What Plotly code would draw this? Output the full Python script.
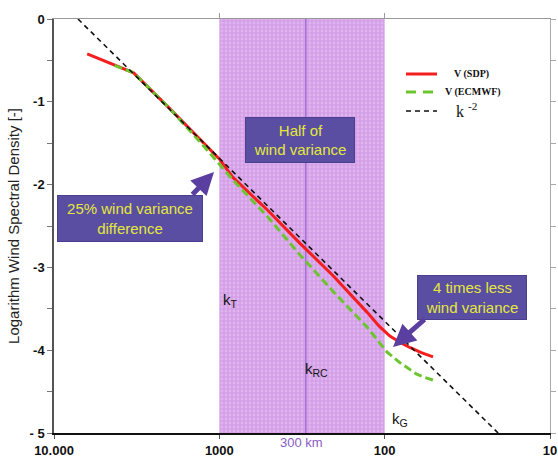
import plotly.graph_objects as go

# ---------------- data ----------------
sdp_km = [6300, 3300, 2000, 1250, 1000, 830, 510, 325, 205, 128, 108, 93, 80, 70, 60, 51]
sdp_val = [-0.42, -0.65, -1.08, -1.50, -1.69, -1.91, -2.31, -2.71, -3.10, -3.54, -3.71, -3.83, -3.91, -3.97, -4.03, -4.08]

ecmwf_km = [4300, 3300, 2000, 1300, 830, 510, 325, 256, 205, 128, 97, 81, 70, 64, 57, 51]
ecmwf_val = [-0.56, -0.65, -1.08, -1.49, -1.94, -2.39, -2.85, -3.08, -3.29, -3.72, -4.02, -4.15, -4.24, -4.29, -4.33, -4.36]

k2_km = [7160, 20.6]
k2_val = [0.0, -5.0]

band_km = [1000, 100]
mark_km = 300
y_limits = [-5, 0]

x_tickvals = [10000, 1000, 100, 10]
x_ticktext = ["10.000", "1000", "100", "10"]
y_tickvals = [0, -0.5, -1, -1.5, -2, -2.5, -3, -3.5, -4, -4.5, -5]
y_ticktext = ["0", "", "-1", "", "-2", "", "-3", "", "-4", "", "- 5"]

# ---------------- figure ----------------
L, R, T, B = 54, 8, 19, 26
W, H = 558, 459
PW, PH = W - L - R, H - T - B


def px(x):
    return (x - L) / PW


def py(y):
    return (H - B - y) / PH


fig = go.Figure()

# shaded band 1000-100 km
fig.add_trace(go.Scatter(
    x=[band_km[0], band_km[1], band_km[1], band_km[0], band_km[0]],
    y=[y_limits[1], y_limits[1], y_limits[0], y_limits[0], y_limits[1]],
    mode="lines", fill="toself", line=dict(width=0),
    fillcolor="#d9a8ea",
    fillpattern=dict(shape="+", size=4, solidity=0.5, fgcolor="#c07ddb", bgcolor="#e0b4ef"),
    hoverinfo="skip", showlegend=False))

# 300 km line
fig.add_trace(go.Scatter(x=[mark_km, mark_km], y=y_limits, mode="lines",
                         line=dict(color="#a070d4", width=1.5),
                         hoverinfo="skip", showlegend=False))

fig.add_trace(go.Scatter(x=sdp_km, y=sdp_val, mode="lines", name="V (SDP)",
                         line=dict(color="#f41e1e", width=3),
                         showlegend=False))
fig.add_trace(go.Scatter(x=ecmwf_km, y=ecmwf_val, mode="lines", name="V (ECMWF)",
                         line=dict(color="#6cc52e", width=3, dash="8px,4px"),
                         showlegend=False))
fig.add_trace(go.Scatter(x=k2_km, y=k2_val, mode="lines", name="k -2",
                         line=dict(color="#111111", width=1.6, dash="5px,4px"),
                         showlegend=False))

# invisible trace for the mirror axes
fig.add_trace(go.Scatter(x=[1000], y=[-1], xaxis="x2", yaxis="y2", mode="markers",
                         marker=dict(opacity=0), hoverinfo="skip", showlegend=False))

tickfont = dict(family="Liberation Sans, Arial", size=13, color="#111", weight="bold")

fig.update_layout(
    width=W, height=H,
    margin=dict(l=L, r=R, t=T, b=B, autoexpand=False),
    paper_bgcolor="white", plot_bgcolor="white",
    showlegend=False,
    xaxis=dict(type="log", range=[4, 1], showgrid=False, zeroline=False, automargin=False,
               showline=True, linecolor="#111", linewidth=2,
               ticks="outside", ticklen=4, tickcolor="#555",
               tickvals=x_tickvals, ticktext=x_ticktext, tickfont=tickfont),
    xaxis2=dict(type="log", range=[4, 1], overlaying="x", side="top", anchor="y", automargin=False,
                showgrid=False, zeroline=False, showline=True, linecolor="#999", linewidth=1,
                ticks="outside", ticklen=5, tickcolor="#999",
                tickvals=[1000, 100], showticklabels=False),
    yaxis=dict(range=y_limits, showgrid=False, zeroline=False, automargin=False,
               showline=True, linecolor="#555", linewidth=1.5,
               ticks="outside", ticklen=5, tickcolor="#777",
               tickvals=y_tickvals, ticktext=y_ticktext, tickfont=tickfont,
               title=dict(text="Logarithm Wind Spectral Density [-]",
                          font=dict(family="Liberation Sans, Arial", size=15, color="#222"),
                          standoff=6)),
    yaxis2=dict(range=y_limits, overlaying="y", side="right", anchor="x", automargin=False,
                showgrid=False, zeroline=False, showline=True, linecolor="#aaa", linewidth=1,
                ticks="outside", ticklen=5, tickcolor="#aaa",
                tickvals=y_tickvals, showticklabels=False),
)

ann = []
box_font = dict(family="Liberation Sans, Arial", size=15, color="#e4e83c")
box_bg = "#5a4ea3"


def box(cx, cy, w, h, text):
    ann.append(dict(xref="paper", yref="paper", x=px(cx), y=py(cy), xanchor="center", yanchor="middle",
                    text=text, showarrow=False, font=box_font, bgcolor=box_bg,
                    bordercolor="#4a3f8f", borderwidth=1, borderpad=0, width=w, height=h, align="center"))


box(300, 140, 108, 44, "Half of<br>wind variance")
box(130, 218, 144, 45, "25% wind variance<br>difference")
box(472, 297, 108, 43, "4 times less<br>wind variance")


def arrow(tipx, tipy, tailx, taily):
    ann.append(dict(xref="paper", yref="paper", x=px(tipx), y=py(tipy), text="",
                    showarrow=True, ax=tailx - tipx, ay=taily - tipy,
                    arrowhead=2, arrowsize=0.9, arrowwidth=5, arrowcolor="#5a3fa0"))


arrow(214, 172, 191, 196)
arrow(393, 347, 426, 318)

kfont = dict(family="Liberation Sans, Arial", size=15, color="#111")
for x0, y0, t in [(221, 300, "k<sub>T</sub>"), (303, 369, "k<sub>RC</sub>"), (390, 419, "k<sub>G</sub>")]:
    ann.append(dict(xref="paper", yref="paper", x=px(x0), y=py(y0), xanchor="left", yanchor="middle",
                    text=t, showarrow=False, font=kfont))

ann.append(dict(xref="paper", yref="paper", x=px(301), y=py(442), xanchor="center", yanchor="middle",
                text="300 km", showarrow=False,
                font=dict(family="Liberation Sans, Arial", size=13, color="#8a5cc6")))

# manual legend
legfont = dict(family="Liberation Serif, Times New Roman", size=10, color="#111", weight="bold")
ann.append(dict(xref="paper", yref="paper", x=px(471), y=py(74), xanchor="center", yanchor="middle",
                text="V (SDP)", showarrow=False, font=legfont))
ann.append(dict(xref="paper", yref="paper", x=px(473), y=py(92), xanchor="center", yanchor="middle",
                text="V (ECMWF)", showarrow=False, font=legfont))
ann.append(dict(xref="paper", yref="paper", x=px(454), y=py(110), xanchor="left", yanchor="middle",
                text="k <sup>-2</sup>", showarrow=False,
                font=dict(family="Liberation Serif, Times New Roman", size=16, color="#111")))
fig.update_layout(annotations=ann)

shapes = [
    dict(type="line", xref="paper", yref="paper", x0=px(406), x1=px(437), y0=py(74), y1=py(74),
         line=dict(color="#f41e1e", width=3)),
    dict(type="line", xref="paper", yref="paper", x0=px(406), x1=px(437), y0=py(92), y1=py(92),
         line=dict(color="#6cc52e", width=3, dash="10px,7px")),
    dict(type="line", xref="paper", yref="paper", x0=px(406), x1=px(437), y0=py(111), y1=py(111),
         line=dict(color="#111", width=1.5, dash="5px,4px")),
]
fig.update_layout(shapes=shapes)

fig.write_html("out.html",
               config={"displayModeBar": False},
               post_script="document.body.style.margin='0';document.body.style.padding='0';"
                           "document.documentElement.style.overflow='hidden';")
